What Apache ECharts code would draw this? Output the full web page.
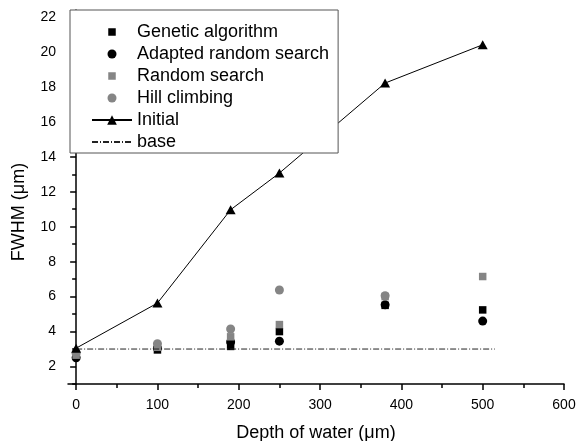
<!DOCTYPE html>
<html>
<head>
<meta charset="utf-8">
<script src="https://cdn.jsdelivr.net/npm/echarts@6/dist/echarts.min.js"></script>
<style>
  html, body { margin: 0; padding: 0; background: #fff; }
  #chart { width: 576px; height: 441px; }
</style>
</head>
<body>
<div id="chart"></div>
<script>
// depth of water (um)
var depths = [0, 100, 190, 250, 380, 500];
var gaVals = [2.7, 2.95, 3.15, 4.0, 5.5, 5.24];       // Genetic algorithm
var arsVals = [2.5, 3.05, 3.4, 3.45, 5.53, 4.6];      // Adapted random search
var rsVals = [2.65, 3.1, 3.7, 4.4, 6.0, 7.15];        // Random search
var hcVals = [2.75, 3.3, 4.15, 6.38, 6.05, null];     // Hill climbing
var initialVals = [3.05, 5.63, 10.97, 13.07, 18.22, 20.41];
var baseX = [0, 515];
var baseY = [3, 3];

var xMajor = [0, 100, 200, 300, 400, 500, 600];
var xMinor = [50, 150, 250, 350, 450, 550];
var yMajor = [2, 4, 6, 8, 10, 12, 14, 16, 18, 20, 22];
var yMinor = [1, 3, 5, 7, 9, 11, 13, 15, 17, 19, 21];

function pairs(xs, ys) {
    var out = [];
    xs.forEach(function (x, i) {
        if (ys[i] != null) out.push([x, ys[i]]);
    });
    return out;
}

var font = '"Liberation Sans", Arial, sans-serif';
var gray = '#858585';
var axisLineStyle = { color: '#000', width: 1.5 };

// legend icons drawn in a 12x12 box so the small marks keep their size
var sqIcon = 'path://M0 0M12 12M2.25 2.25H9.75V9.75H2.25Z';
var dotIcon = 'path://M0 0M12 12M10.5 6A4.5 4.5 0 1 1 1.5 6A4.5 4.5 0 1 1 10.5 6Z';

var chart = echarts.init(document.getElementById('chart'));
chart.setOption({
    animation: false,
    textStyle: { fontFamily: font, color: '#000' },
    grid: { left: 68, right: 12, top: 10, bottom: 57, outerBoundsMode: 'none' },
    legend: {
        orient: 'vertical',
        left: 70,
        top: 10,
        padding: [13, 9, 2, 21],
        itemWidth: 40,
        itemHeight: 12,
        itemGap: 4,
        borderColor: '#555',
        borderWidth: 1,
        backgroundColor: '#fff',
        textStyle: { fontSize: 18, lineHeight: 18, color: '#000', fontFamily: font },
        data: [
            { name: 'Genetic algorithm', icon: sqIcon },
            { name: 'Adapted random search', icon: dotIcon },
            { name: 'Random search', icon: sqIcon },
            { name: 'Hill climbing', icon: dotIcon },
            'Initial',
            'base'
        ]
    },
    xAxis: [
        {
            type: 'value', min: -10, max: 600,
            name: 'Depth of water (\u03bcm)', nameLocation: 'middle', nameGap: 40,
            nameTextStyle: { fontSize: 18, color: '#000', fontFamily: font },
            axisLine: { lineStyle: axisLineStyle },
            axisTick: { customValues: xMajor, length: 6, lineStyle: axisLineStyle },
            axisLabel: { customValues: xMajor, fontSize: 14, color: '#000', margin: 14, fontFamily: font },
            splitLine: { show: false }
        },
        {
            type: 'value', min: -10, max: 600, position: 'bottom',
            axisLine: { show: false },
            axisTick: { customValues: xMinor, length: 4, lineStyle: axisLineStyle },
            axisLabel: { show: false },
            splitLine: { show: false }
        }
    ],
    yAxis: [
        {
            type: 'value', min: 1, max: 22.4,
            name: 'FWHM (\u03bcm)', nameLocation: 'middle', nameGap: 40,
            nameTextStyle: { fontSize: 18, color: '#000', fontFamily: font, padding: [0, 30, 0, 0] },
            axisLine: { show: true, lineStyle: axisLineStyle },
            axisTick: { show: true, customValues: yMajor, length: 6, lineStyle: axisLineStyle },
            axisLabel: { customValues: yMajor, fontSize: 14, color: '#000', margin: 12, fontFamily: font },
            splitLine: { show: false }
        },
        {
            type: 'value', min: 1, max: 22.4, position: 'left',
            axisLine: { show: false },
            axisTick: { show: true, customValues: yMinor, length: 4, lineStyle: axisLineStyle },
            axisLabel: { show: false },
            splitLine: { show: false }
        }
    ],
    series: [
        {
            name: 'base', type: 'line', data: pairs(baseX, baseY),
            symbol: 'circle', showSymbol: false,
            lineStyle: { color: '#222', width: 1, type: [6, 2, 1, 2] },
            itemStyle: { color: 'rgba(0,0,0,0)' }
        },
        {
            name: 'Genetic algorithm', type: 'scatter', data: pairs(depths, gaVals),
            symbol: 'rect', symbolSize: 7.5, itemStyle: { color: '#000', opacity: 1 }
        },
        {
            name: 'Adapted random search', type: 'scatter', data: pairs(depths, arsVals),
            symbol: 'circle', symbolSize: 9, itemStyle: { color: '#000', opacity: 1 }
        },
        {
            name: 'Random search', type: 'scatter', data: pairs(depths, rsVals),
            symbol: 'rect', symbolSize: 7.5, itemStyle: { color: gray, opacity: 1 }
        },
        {
            name: 'Hill climbing', type: 'scatter', data: pairs(depths, hcVals),
            symbol: 'circle', symbolSize: 9, itemStyle: { color: gray, opacity: 1 }
        },
        {
            name: 'Initial', type: 'line', data: pairs(depths, initialVals),
            symbol: 'triangle', symbolSize: [10, 9],
            lineStyle: { color: '#000', width: 1 }, itemStyle: { color: '#000' }
        }
    ]
});
</script>
</body>
</html>
